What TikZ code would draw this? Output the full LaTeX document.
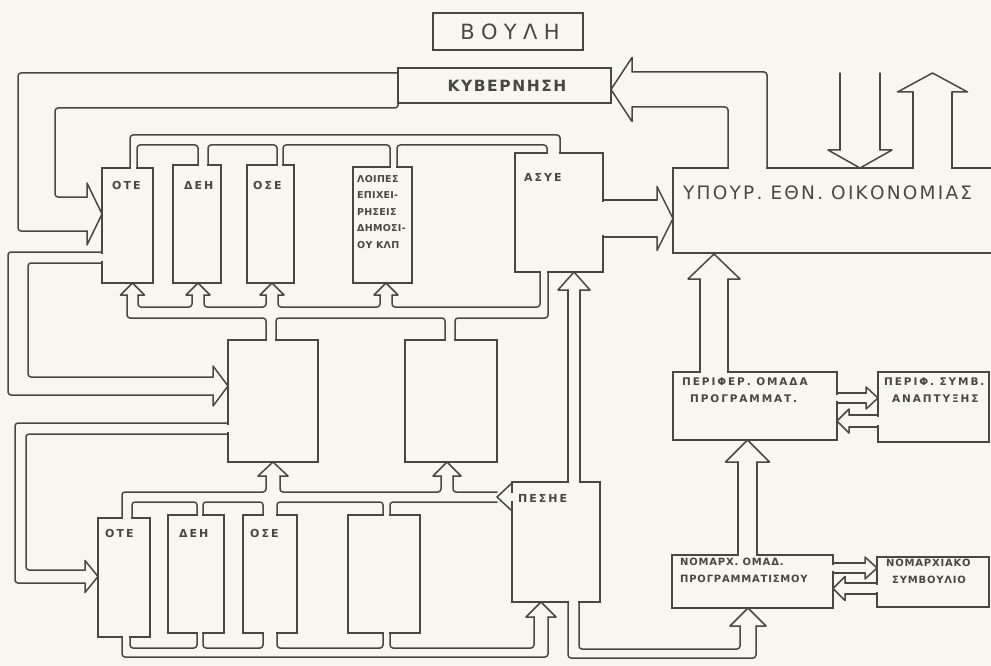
\documentclass[tikz,border=0pt]{standalone}
\usepackage{fontspec}
\setmainfont{DejaVu Sans}
\newfontfamily\ttl[LetterSpace=30]{DejaVu Sans}
\newfontfamily\ttm[LetterSpace=10]{DejaVu Sans}
\newfontfamily\ttu[LetterSpace=12]{DejaVu Sans}
\newfontfamily\lab[LetterSpace=18]{DejaVu Sans}
\newfontfamily\labn[LetterSpace=8]{DejaVu Sans}
\newfontfamily\labt[LetterSpace=3]{DejaVu Sans}
\definecolor{ink}{RGB}{72,72,66}
\definecolor{bg}{RGB}{247,246,240}
\tikzset{
 ln/.style={draw=ink, line width=1.5pt, line cap=round, line join=round},
 conduit/.style={ln, rounded corners=3pt},
 box/.style={draw=ink, line width=1.5pt, rectangle, inner sep=0pt, outer sep=0pt},
 erase/.style={draw=bg, line width=2.6pt, line cap=butt},
 txt/.style={text=ink, inner sep=0pt, anchor=west},
 smallf/.style={font=\lab\bfseries\fontsize{11}{17}\selectfont},
 rightf/.style={font=\lab\bfseries\fontsize{10.5}{17}\selectfont},
}
% box: name, x1, y1, x2, y2
\newcommand\bx[5]{\node[box, anchor=north west, minimum width={(#4-#2)*1pt}, minimum height={(#5-#3)*1pt}] (#1) at (#2,#3) {};}
% erase a mouth
\newcommand\er[4]{\draw[erase] (#1,#2) -- (#3,#4);}
% hollow head: tip x, tip y, angle, shaft half width, wing half width, length
\newcommand\hh[6]{\draw[ln, shift={(#1,#2)}, rotate=#3] (-#6,#4) -- (-#6,#5) -- (0,0) -- (-#6,-#5) -- (-#6,-#4);}
\begin{document}
\begin{tikzpicture}[x=1pt,y=-1pt]
\useasboundingbox (0,0) rectangle (991,666);
\fill[bg] (0,0) rectangle (991,666);
\clip (0,0) rectangle (991,666);

% ---------- boxes ----------
\bx{boule}{433}{13}{583}{50}
\bx{kyb}{398}{68}{611}{103}
\bx{oteA}{102}{168}{153}{283}
\bx{deiA}{173}{165}{221}{283}
\bx{oseA}{247}{165}{294}{283}
\bx{loipA}{353}{167}{412}{283}
\bx{asye}{515}{153}{603}{272}
\bx{midA}{228}{340}{318}{462}
\bx{midB}{405}{340}{497}{462}
\bx{oteB}{98}{518}{150}{637}
\bx{deiB}{168}{515}{224}{633}
\bx{oseB}{243}{515}{297}{633}
\bx{loipB}{348}{515}{420}{633}
\bx{pesye}{512}{482}{600}{602}
\bx{ypoyr}{673}{168}{1005}{253}
\bx{perom}{673}{372}{837}{440}
\bx{persy}{878}{372}{989}{442}
\bx{nomom}{672}{555}{833}{608}
\bx{nomsy}{877}{557}{989}{607}

% ---------- mouths ----------
\er{102}{254}{102}{261}
\er{131}{168}{136}{168}
\er{199}{165}{207}{165}
\er{278}{165}{282}{165}
\er{391}{167}{396}{167}
\er{548}{153}{559}{153}
\er{267}{340}{275}{340}
\er{446}{340}{454}{340}
\er{541}{272}{547}{272}
\er{228}{425}{228}{432}
\er{123}{518}{131}{518}
\er{198}{515}{202}{515}
\er{264}{515}{276}{515}
\er{384}{515}{389}{515}
\er{512}{493}{512}{501}
\er{123}{637}{129}{637}
\er{198}{633}{202}{633}
\er{264}{633}{276}{633}
\er{384}{633}{389}{633}
\er{569}{482}{579}{482}
\er{569}{602}{578}{602}
\er{603}{202}{603}{235}
\er{729}{168}{766}{168}
\er{914}{168}{951}{168}
\er{701}{372}{727}{372}
\er{739}{555}{756}{555}
\er{837}{395}{837}{401}
\er{878}{417}{878}{425}
\er{833}{565}{833}{571}
\er{877}{585}{877}{592}

% ---------- KYB -> OTE (upper) ----------
\draw[conduit] (398,73) -- (18,73) -- (18,231) -- (87,231);
\draw[conduit] (398,103) -- (398,108) -- (55,108) -- (55,197) -- (87,197);
\hh{102}{214}{0}{17}{31}{15}

% ---------- OTE (upper) -> middle box ----------
\draw[conduit] (102,252) -- (8,252) -- (8,395) -- (213,395);
\draw[conduit] (102,263) -- (28,263) -- (28,377) -- (213,377);
\hh{228}{386}{0}{9}{20}{15}

% ---------- top bus ----------
\draw[conduit] (130,168) -- (130,135) -- (560,135) -- (560,153);
\draw[conduit] (137,168) -- (137,145) -- (198,145) -- (198,165);
\draw[conduit] (208,165) -- (208,145) -- (277,145) -- (277,165);
\draw[conduit] (283,165) -- (283,145) -- (390,145) -- (390,167);
\draw[conduit] (397,167) -- (397,145) -- (547,145) -- (547,153);

% ---------- upper bus ----------
\draw[conduit] (127,295) -- (127,318) -- (266,318) -- (266,340);
\draw[conduit] (276,340) -- (276,318) -- (445,318) -- (445,340);
\draw[conduit] (455,340) -- (455,318) -- (548,318) -- (548,272);
\draw[conduit] (138,295) -- (138,307) -- (192,307) -- (192,295);
\draw[conduit] (204,295) -- (204,307) -- (266,307) -- (266,295);
\draw[conduit] (278,295) -- (278,307) -- (380,307) -- (380,295);
\draw[conduit] (392,295) -- (392,307) -- (540,307) -- (540,272);
\hh{132.5}{283}{90}{5.5}{12}{12}
\hh{198}{283}{90}{6}{12}{12}
\hh{272}{283}{90}{6}{12}{12}
\hh{386}{283}{90}{6}{12}{12}

% ---------- middle box -> OTE (lower) ----------
\draw[conduit] (228,423) -- (15,423) -- (15,583) -- (85,583);
\draw[conduit] (228,434) -- (26,434) -- (26,570) -- (85,570);
\hh{98}{576.5}{0}{6.5}{16}{13}

% ---------- lower bus ----------
\draw[conduit] (122,518) -- (122,492) -- (266,492) -- (266,476);
\draw[conduit] (280,476) -- (280,492) -- (441,492) -- (441,476);
\draw[conduit] (453,476) -- (453,492) -- (497,492);
\draw[conduit] (132,518) -- (132,502) -- (197,502) -- (197,515);
\draw[conduit] (203,515) -- (203,502) -- (263,502) -- (263,515);
\draw[conduit] (277,515) -- (277,502) -- (383,502) -- (383,515);
\draw[conduit] (390,515) -- (390,502) -- (497,502);
\hh{273}{462}{90}{7}{15}{14}
\hh{447}{462}{90}{6}{14}{14}
\hh{497}{497}{180}{5}{14}{15}

% ---------- bottom bus ----------
\draw[conduit] (122,637) -- (122,657) -- (548,657) -- (548,617);
\draw[conduit] (130,637) -- (130,648) -- (197,648) -- (197,633);
\draw[conduit] (203,633) -- (203,648) -- (263,648) -- (263,633);
\draw[conduit] (277,633) -- (277,648) -- (383,648) -- (383,633);
\draw[conduit] (390,633) -- (390,648) -- (534,648) -- (534,617);
\hh{541}{602}{90}{7}{15}{15}

% ---------- PESYE -> ASYE ----------
\draw[conduit] (568,482) -- (568,290);
\draw[conduit] (580,482) -- (580,290);
\hh{574}{272}{90}{6}{16}{18}

% ---------- PESYE -> NOM ----------
\draw[conduit] (568,602) -- (568,658) -- (756,658) -- (756,626);
\draw[conduit] (579,602) -- (579,649) -- (740,649) -- (740,626);
\hh{748}{608}{90}{8}{18}{18}

% ---------- ASYE -> YPOYR ----------
\draw[conduit] (603,200) -- (657,200);
\draw[conduit] (603,237) -- (657,237);
\hh{673}{218.5}{0}{18.5}{32}{16}

% ---------- YPOYR -> KYB ----------
\draw[conduit] (767,168) -- (767,72) -- (632,72);
\draw[conduit] (728,168) -- (728,107) -- (632,107);
\hh{611}{89.5}{180}{17.5}{32}{21}

% ---------- into / out of YPOYR at top ----------
\draw[conduit] (840,73) -- (840,150);
\draw[conduit] (880,73) -- (880,150);
\hh{860}{168}{270}{20}{32}{18}
\draw[conduit] (913,168) -- (913,92);
\draw[conduit] (952,168) -- (952,92);
\hh{932.5}{73}{90}{19.5}{35}{19}

% ---------- regional ----------
\draw[conduit] (700,372) -- (700,279);
\draw[conduit] (728,372) -- (728,279);
\hh{714}{254}{90}{14}{26}{25}
\draw[conduit] (738,555) -- (738,462);
\draw[conduit] (757,555) -- (757,462);
\hh{747.5}{440}{90}{9.5}{22}{22}
\draw[conduit] (837,393) -- (866,393);
\draw[conduit] (837,403) -- (866,403);
\hh{878}{398}{0}{5}{11}{12}
\draw[conduit] (878,415) -- (849,415);
\draw[conduit] (878,427) -- (849,427);
\hh{837}{421}{180}{6}{12}{12}
\draw[conduit] (833,563) -- (865,563);
\draw[conduit] (833,573) -- (865,573);
\hh{877}{568}{0}{5}{11}{12}
\draw[conduit] (877,583) -- (845,583);
\draw[conduit] (877,594) -- (845,594);
\hh{833}{588.5}{180}{5.5}{12}{12}

% ---------- texts ----------
\node[txt, anchor=center, font=\ttl\fontsize{21}{24}\selectfont] (tboule) at (510,32) {ΒΟΥΛΗ};
\node[txt, anchor=center, font=\ttm\bfseries\fontsize{15.5}{20}\selectfont] (tkyb) at (507,86) {ΚΥΒΕΡΝΗΣΗ};
\node[txt, font=\ttu\fontsize{18.5}{22}\selectfont] (typoyr) at (683,193) {ΥΠΟΥΡ. ΕΘΝ. ΟΙΚΟΝΟΜΙΑΣ};
\node[txt, smallf] (toteA) at (112,185) {ΟΤΕ};
\node[txt, smallf] (tdeiA) at (184,185) {ΔΕΗ};
\node[txt, smallf] (toseA) at (253,185) {ΟΣΕ};
\node[txt, anchor=north west, align=left, font=\labt\bfseries\fontsize{9.5}{16.5}\selectfont] (tloipA) at (357,175) {ΛΟΙΠΕΣ\\ΕΠΙΧΕΙ-\\ΡΗΣΕΙΣ\\ΔΗΜΟΣΙ-\\ΟΥ ΚΛΠ};
\node[txt, smallf] (tasye) at (524,177) {ΑΣΥΕ};
\node[txt, smallf] (toteB) at (105,533) {ΟΤΕ};
\node[txt, smallf] (tdeiB) at (179,533) {ΔΕΗ};
\node[txt, smallf] (toseB) at (250,533) {ΟΣΕ};
\node[txt, smallf] (tpesye) at (518,498) {ΠΕΣΗΕ};
\node[txt, rightf, anchor=north west, align=left] (tperom) at (682,378) {ΠΕΡΙΦΕΡ. ΟΜΑΔΑ\\\hspace*{8pt}ΠΡΟΓΡΑΜΜΑΤ.};
\node[txt, rightf, anchor=north west, align=left] (tpersy) at (884,378) {ΠΕΡΙΦ. ΣΥΜΒ.\\\hspace*{8pt}ΑΝΑΠΤΥΞΗΣ};
\node[txt, anchor=north west, align=left, font=\labn\bfseries\fontsize{10}{17}\selectfont] (tnomom) at (680,558) {ΝΟΜΑΡΧ. ΟΜΑΔ.\\ΠΡΟΓΡΑΜΜΑΤΙΣΜΟΥ};
\node[txt, anchor=north west, align=left, font=\labn\bfseries\fontsize{10}{17}\selectfont] (tnomsy) at (886,559) {ΝΟΜΑΡΧΙΑΚΟ\\\hspace*{6pt}ΣΥΜΒΟΥΛΙΟ};
\end{tikzpicture}
\end{document}
